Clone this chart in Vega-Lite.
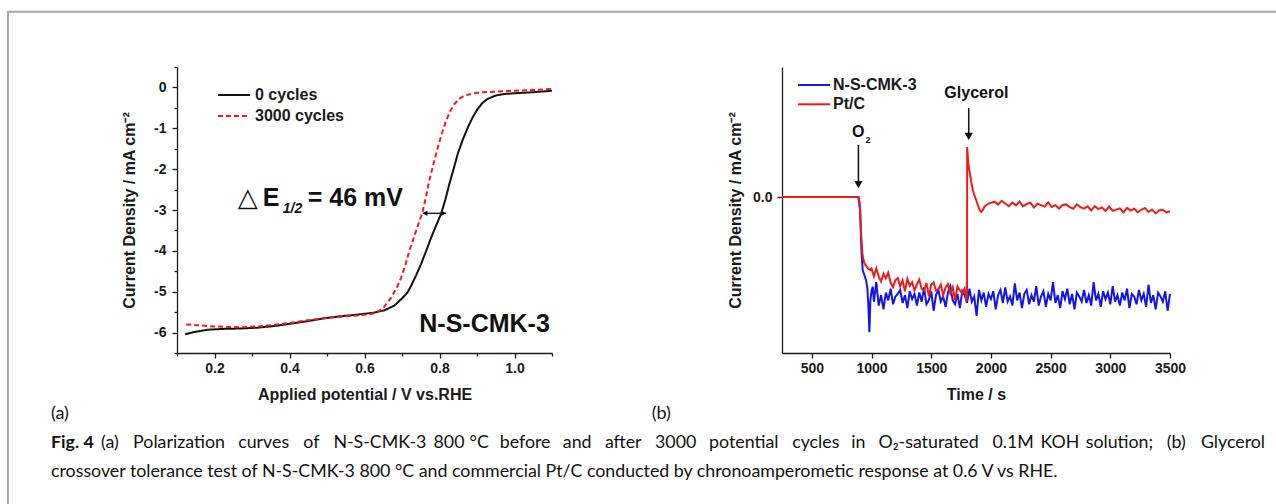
{
  "$schema": "https://vega.github.io/schema/vega-lite/v6.json",
  "background": "white",
  "padding": {"left": 6, "top": 10, "right": 0, "bottom": 0},
  "config": {
    "view": {"stroke": null},
    "font": "Liberation Sans",
    "axis": {"domainColor": "#1a1a1a", "domainWidth": 1.3, "tickColor": "#1a1a1a", "tickWidth": 1.3, "labelFont": "Liberation Sans", "labelFontWeight": "bold", "labelFontSize": 14, "labelColor": "#1a1a1a", "titleFont": "Liberation Sans", "titleFontWeight": "bold", "titleFontSize": 16, "titleColor": "#1a1a1a", "grid": false, "labelPadding": 3, "labelOverlap": false, "labelFlush": false},
    "legend": {"labelFont": "Liberation Sans", "labelFontWeight": "bold", "labelFontSize": 16, "labelColor": "#1a1a1a", "symbolStrokeWidth": 2, "padding": 0}
  },
  "datasets": {
    "curvesA": [
      {"x":0.122,"y":-6.04,"series":"0 cycles"},{"x":0.1445,"y":-5.99,"series":"0 cycles"},{"x":0.1815,"y":-5.93,"series":"0 cycles"},{"x":0.2245,"y":-5.91,"series":"0 cycles"},{"x":0.2705,"y":-5.9,"series":"0 cycles"},{"x":0.3145,"y":-5.88,"series":"0 cycles"},{"x":0.3595,"y":-5.84,"series":"0 cycles"},{"x":0.4045,"y":-5.78,"series":"0 cycles"},{"x":0.4485,"y":-5.72,"series":"0 cycles"},{"x":0.4925,"y":-5.65,"series":"0 cycles"},{"x":0.5375,"y":-5.6,"series":"0 cycles"},{"x":0.5825,"y":-5.56,"series":"0 cycles"},{"x":0.6265,"y":-5.51,"series":"0 cycles"},{"x":0.6545,"y":-5.45,"series":"0 cycles"},{"x":0.6795,"y":-5.34,"series":"0 cycles"},{"x":0.6995,"y":-5.17,"series":"0 cycles"},{"x":0.7145,"y":-5.02,"series":"0 cycles"},{"x":0.724,"y":-4.86,"series":"0 cycles"},{"x":0.7375,"y":-4.6,"series":"0 cycles"},{"x":0.7505,"y":-4.33,"series":"0 cycles"},{"x":0.7645,"y":-4.0,"series":"0 cycles"},{"x":0.7775,"y":-3.68,"series":"0 cycles"},{"x":0.7905,"y":-3.39,"series":"0 cycles"},{"x":0.804,"y":-3.1,"series":"0 cycles"},{"x":0.8155,"y":-2.75,"series":"0 cycles"},{"x":0.826,"y":-2.37,"series":"0 cycles"},{"x":0.8375,"y":-2.0,"series":"0 cycles"},{"x":0.8485,"y":-1.63,"series":"0 cycles"},{"x":0.8615,"y":-1.29,"series":"0 cycles"},{"x":0.8755,"y":-0.98,"series":"0 cycles"},{"x":0.8885,"y":-0.73,"series":"0 cycles"},{"x":0.9015,"y":-0.53,"series":"0 cycles"},{"x":0.9145,"y":-0.38,"series":"0 cycles"},{"x":0.9285,"y":-0.28,"series":"0 cycles"},{"x":0.9495,"y":-0.2,"series":"0 cycles"},{"x":0.9725,"y":-0.16,"series":"0 cycles"},{"x":1.0045,"y":-0.14,"series":"0 cycles"},{"x":1.0445,"y":-0.12,"series":"0 cycles"},{"x":1.0745,"y":-0.1,"series":"0 cycles"},{"x":1.1,"y":-0.08,"series":"0 cycles"},
      {"x":0.1245,"y":-5.8,"series":"3000 cycles"},{"x":0.1545,"y":-5.82,"series":"3000 cycles"},{"x":0.1815,"y":-5.84,"series":"3000 cycles"},{"x":0.2245,"y":-5.86,"series":"3000 cycles"},{"x":0.2705,"y":-5.87,"series":"3000 cycles"},{"x":0.3145,"y":-5.85,"series":"3000 cycles"},{"x":0.3595,"y":-5.81,"series":"3000 cycles"},{"x":0.4045,"y":-5.76,"series":"3000 cycles"},{"x":0.4485,"y":-5.7,"series":"3000 cycles"},{"x":0.4925,"y":-5.65,"series":"3000 cycles"},{"x":0.5375,"y":-5.61,"series":"3000 cycles"},{"x":0.5815,"y":-5.58,"series":"3000 cycles"},{"x":0.6145,"y":-5.55,"series":"3000 cycles"},{"x":0.6345,"y":-5.5,"series":"3000 cycles"},{"x":0.6495,"y":-5.4,"series":"3000 cycles"},{"x":0.6705,"y":-5.15,"series":"3000 cycles"},{"x":0.6845,"y":-4.93,"series":"3000 cycles"},{"x":0.6975,"y":-4.66,"series":"3000 cycles"},{"x":0.7095,"y":-4.33,"series":"3000 cycles"},{"x":0.7195,"y":-4.0,"series":"3000 cycles"},{"x":0.7285,"y":-3.76,"series":"3000 cycles"},{"x":0.7375,"y":-3.51,"series":"3000 cycles"},{"x":0.7465,"y":-3.27,"series":"3000 cycles"},{"x":0.7555,"y":-3.02,"series":"3000 cycles"},{"x":0.7645,"y":-2.65,"series":"3000 cycles"},{"x":0.7725,"y":-2.29,"series":"3000 cycles"},{"x":0.7845,"y":-1.85,"series":"3000 cycles"},{"x":0.7955,"y":-1.47,"series":"3000 cycles"},{"x":0.8065,"y":-1.12,"series":"3000 cycles"},{"x":0.8175,"y":-0.82,"series":"3000 cycles"},{"x":0.8285,"y":-0.58,"series":"3000 cycles"},{"x":0.8395,"y":-0.41,"series":"3000 cycles"},{"x":0.8525,"y":-0.28,"series":"3000 cycles"},{"x":0.8665,"y":-0.2,"series":"3000 cycles"},{"x":0.8885,"y":-0.15,"series":"3000 cycles"},{"x":0.9105,"y":-0.12,"series":"3000 cycles"},{"x":0.9545,"y":-0.1,"series":"3000 cycles"},{"x":0.9995,"y":-0.08,"series":"3000 cycles"},{"x":1.0545,"y":-0.06,"series":"3000 cycles"},{"x":1.1,"y":-0.04,"series":"3000 cycles"}
    ],
    "curvesB": [
      {"x":250,"y":0,"series":"N-S-CMK-3"},{"x":890,"y":0,"series":"N-S-CMK-3"},{"x":905,"y":-0.1,"series":"N-S-CMK-3"},{"x":915,"y":-0.4,"series":"N-S-CMK-3"},{"x":926,"y":-0.565,"series":"N-S-CMK-3"},{"x":940,"y":-0.6,"series":"N-S-CMK-3"},{"x":954,"y":-0.64,"series":"N-S-CMK-3"},{"x":965,"y":-0.7,"series":"N-S-CMK-3"},{"x":974,"y":-0.85,"series":"N-S-CMK-3"},{"x":982,"y":-1.04,"series":"N-S-CMK-3"},{"x":990,"y":-0.8,"series":"N-S-CMK-3"},{"x":1000,"y":-0.72,"series":"N-S-CMK-3"},{"x":1010,"y":-0.69,"series":"N-S-CMK-3"},
      {"x":1020,"y":-0.805,"series":"N-S-CMK-3"},{"x":1040,"y":-0.655,"series":"N-S-CMK-3"},{"x":1060,"y":-0.835,"series":"N-S-CMK-3"},{"x":1080,"y":-0.755,"series":"N-S-CMK-3"},{"x":1100,"y":-0.865,"series":"N-S-CMK-3"},{"x":1120,"y":-0.735,"series":"N-S-CMK-3"},{"x":1140,"y":-0.795,"series":"N-S-CMK-3"},{"x":1160,"y":-0.705,"series":"N-S-CMK-3"},{"x":1180,"y":-0.825,"series":"N-S-CMK-3"},{"x":1200,"y":-0.765,"series":"N-S-CMK-3"},
      {"x":1220,"y":-0.745,"series":"N-S-CMK-3"},{"x":1240,"y":-0.715,"series":"N-S-CMK-3"},{"x":1260,"y":-0.815,"series":"N-S-CMK-3"},{"x":1280,"y":-0.755,"series":"N-S-CMK-3"},{"x":1300,"y":-0.855,"series":"N-S-CMK-3"},{"x":1320,"y":-0.725,"series":"N-S-CMK-3"},{"x":1340,"y":-0.785,"series":"N-S-CMK-3"},{"x":1360,"y":-0.745,"series":"N-S-CMK-3"},{"x":1380,"y":-0.835,"series":"N-S-CMK-3"},{"x":1400,"y":-0.735,"series":"N-S-CMK-3"},
      {"x":1420,"y":-0.805,"series":"N-S-CMK-3"},{"x":1440,"y":-0.695,"series":"N-S-CMK-3"},{"x":1460,"y":-0.825,"series":"N-S-CMK-3"},{"x":1480,"y":-0.795,"series":"N-S-CMK-3"},{"x":1500,"y":-0.725,"series":"N-S-CMK-3"},{"x":1520,"y":-0.875,"series":"N-S-CMK-3"},{"x":1540,"y":-0.755,"series":"N-S-CMK-3"},{"x":1560,"y":-0.715,"series":"N-S-CMK-3"},{"x":1580,"y":-0.805,"series":"N-S-CMK-3"},{"x":1600,"y":-0.765,"series":"N-S-CMK-3"},
      {"x":1620,"y":-0.845,"series":"N-S-CMK-3"},{"x":1640,"y":-0.735,"series":"N-S-CMK-3"},{"x":1660,"y":-0.685,"series":"N-S-CMK-3"},{"x":1680,"y":-0.795,"series":"N-S-CMK-3"},{"x":1700,"y":-0.825,"series":"N-S-CMK-3"},{"x":1720,"y":-0.745,"series":"N-S-CMK-3"},{"x":1740,"y":-0.855,"series":"N-S-CMK-3"},{"x":1760,"y":-0.725,"series":"N-S-CMK-3"},{"x":1780,"y":-0.755,"series":"N-S-CMK-3"},{"x":1800,"y":-0.815,"series":"N-S-CMK-3"},
      {"x":1820,"y":-0.705,"series":"N-S-CMK-3"},{"x":1840,"y":-0.805,"series":"N-S-CMK-3"},{"x":1860,"y":-0.765,"series":"N-S-CMK-3"},{"x":1880,"y":-0.915,"series":"N-S-CMK-3"},{"x":1900,"y":-0.715,"series":"N-S-CMK-3"},{"x":1920,"y":-0.795,"series":"N-S-CMK-3"},{"x":1940,"y":-0.735,"series":"N-S-CMK-3"},{"x":1960,"y":-0.845,"series":"N-S-CMK-3"},{"x":1980,"y":-0.745,"series":"N-S-CMK-3"},{"x":2000,"y":-0.785,"series":"N-S-CMK-3"},
      {"x":2020,"y":-0.725,"series":"N-S-CMK-3"},{"x":2040,"y":-0.865,"series":"N-S-CMK-3"},{"x":2060,"y":-0.755,"series":"N-S-CMK-3"},{"x":2080,"y":-0.715,"series":"N-S-CMK-3"},{"x":2100,"y":-0.815,"series":"N-S-CMK-3"},{"x":2120,"y":-0.695,"series":"N-S-CMK-3"},{"x":2140,"y":-0.805,"series":"N-S-CMK-3"},{"x":2160,"y":-0.765,"series":"N-S-CMK-3"},{"x":2180,"y":-0.835,"series":"N-S-CMK-3"},{"x":2200,"y":-0.665,"series":"N-S-CMK-3"},
      {"x":2220,"y":-0.795,"series":"N-S-CMK-3"},{"x":2240,"y":-0.735,"series":"N-S-CMK-3"},{"x":2260,"y":-0.855,"series":"N-S-CMK-3"},{"x":2280,"y":-0.745,"series":"N-S-CMK-3"},{"x":2300,"y":-0.715,"series":"N-S-CMK-3"},{"x":2320,"y":-0.825,"series":"N-S-CMK-3"},{"x":2340,"y":-0.755,"series":"N-S-CMK-3"},{"x":2360,"y":-0.805,"series":"N-S-CMK-3"},{"x":2380,"y":-0.685,"series":"N-S-CMK-3"},{"x":2400,"y":-0.835,"series":"N-S-CMK-3"},
      {"x":2420,"y":-0.765,"series":"N-S-CMK-3"},{"x":2440,"y":-0.725,"series":"N-S-CMK-3"},{"x":2460,"y":-0.845,"series":"N-S-CMK-3"},{"x":2480,"y":-0.745,"series":"N-S-CMK-3"},{"x":2500,"y":-0.795,"series":"N-S-CMK-3"},{"x":2520,"y":-0.655,"series":"N-S-CMK-3"},{"x":2540,"y":-0.815,"series":"N-S-CMK-3"},{"x":2560,"y":-0.755,"series":"N-S-CMK-3"},{"x":2580,"y":-0.855,"series":"N-S-CMK-3"},{"x":2600,"y":-0.725,"series":"N-S-CMK-3"},
      {"x":2620,"y":-0.785,"series":"N-S-CMK-3"},{"x":2640,"y":-0.705,"series":"N-S-CMK-3"},{"x":2660,"y":-0.825,"series":"N-S-CMK-3"},{"x":2680,"y":-0.745,"series":"N-S-CMK-3"},{"x":2700,"y":-0.865,"series":"N-S-CMK-3"},{"x":2720,"y":-0.735,"series":"N-S-CMK-3"},{"x":2740,"y":-0.765,"series":"N-S-CMK-3"},{"x":2760,"y":-0.805,"series":"N-S-CMK-3"},{"x":2780,"y":-0.715,"series":"N-S-CMK-3"},{"x":2800,"y":-0.815,"series":"N-S-CMK-3"},
      {"x":2820,"y":-0.755,"series":"N-S-CMK-3"},{"x":2840,"y":-0.835,"series":"N-S-CMK-3"},{"x":2860,"y":-0.655,"series":"N-S-CMK-3"},{"x":2880,"y":-0.795,"series":"N-S-CMK-3"},{"x":2900,"y":-0.745,"series":"N-S-CMK-3"},{"x":2920,"y":-0.845,"series":"N-S-CMK-3"},{"x":2940,"y":-0.725,"series":"N-S-CMK-3"},{"x":2960,"y":-0.785,"series":"N-S-CMK-3"},{"x":2980,"y":-0.735,"series":"N-S-CMK-3"},{"x":3000,"y":-0.825,"series":"N-S-CMK-3"},
      {"x":3020,"y":-0.685,"series":"N-S-CMK-3"},{"x":3040,"y":-0.805,"series":"N-S-CMK-3"},{"x":3060,"y":-0.755,"series":"N-S-CMK-3"},{"x":3080,"y":-0.835,"series":"N-S-CMK-3"},{"x":3100,"y":-0.735,"series":"N-S-CMK-3"},{"x":3120,"y":-0.795,"series":"N-S-CMK-3"},{"x":3140,"y":-0.705,"series":"N-S-CMK-3"},{"x":3160,"y":-0.855,"series":"N-S-CMK-3"},{"x":3180,"y":-0.745,"series":"N-S-CMK-3"},{"x":3200,"y":-0.765,"series":"N-S-CMK-3"},
      {"x":3220,"y":-0.825,"series":"N-S-CMK-3"},{"x":3240,"y":-0.715,"series":"N-S-CMK-3"},{"x":3260,"y":-0.795,"series":"N-S-CMK-3"},{"x":3280,"y":-0.745,"series":"N-S-CMK-3"},{"x":3300,"y":-0.845,"series":"N-S-CMK-3"},{"x":3320,"y":-0.675,"series":"N-S-CMK-3"},{"x":3340,"y":-0.815,"series":"N-S-CMK-3"},{"x":3360,"y":-0.755,"series":"N-S-CMK-3"},{"x":3380,"y":-0.865,"series":"N-S-CMK-3"},{"x":3400,"y":-0.735,"series":"N-S-CMK-3"},
      {"x":3420,"y":-0.765,"series":"N-S-CMK-3"},{"x":3440,"y":-0.805,"series":"N-S-CMK-3"},{"x":3460,"y":-0.725,"series":"N-S-CMK-3"},{"x":3480,"y":-0.875,"series":"N-S-CMK-3"},{"x":3500,"y":-0.745,"series":"N-S-CMK-3"},
      {"x":250,"y":0,"series":"Pt/C"},{"x":890,"y":0,"series":"Pt/C"},{"x":900,"y":-0.04,"series":"Pt/C"},{"x":912,"y":-0.28,"series":"Pt/C"},{"x":925,"y":-0.45,"series":"Pt/C"},{"x":940,"y":-0.51,"series":"Pt/C"},{"x":955,"y":-0.53,"series":"Pt/C"},{"x":970,"y":-0.55,"series":"Pt/C"},{"x":985,"y":-0.56,"series":"Pt/C"},
      {"x":1000,"y":-0.55,"series":"Pt/C"},{"x":1020,"y":-0.61,"series":"Pt/C"},{"x":1040,"y":-0.55,"series":"Pt/C"},{"x":1060,"y":-0.61,"series":"Pt/C"},{"x":1080,"y":-0.65,"series":"Pt/C"},{"x":1100,"y":-0.59,"series":"Pt/C"},{"x":1120,"y":-0.626,"series":"Pt/C"},{"x":1140,"y":-0.582,"series":"Pt/C"},{"x":1160,"y":-0.658,"series":"Pt/C"},{"x":1180,"y":-0.694,"series":"Pt/C"},
      {"x":1200,"y":-0.64,"series":"Pt/C"},{"x":1220,"y":-0.624,"series":"Pt/C"},{"x":1240,"y":-0.688,"series":"Pt/C"},{"x":1260,"y":-0.642,"series":"Pt/C"},{"x":1280,"y":-0.726,"series":"Pt/C"},{"x":1300,"y":-0.63,"series":"Pt/C"},{"x":1320,"y":-0.683,"series":"Pt/C"},{"x":1340,"y":-0.656,"series":"Pt/C"},{"x":1360,"y":-0.719,"series":"Pt/C"},{"x":1380,"y":-0.672,"series":"Pt/C"},
      {"x":1400,"y":-0.635,"series":"Pt/C"},{"x":1420,"y":-0.707,"series":"Pt/C"},{"x":1440,"y":-0.719,"series":"Pt/C"},{"x":1460,"y":-0.661,"series":"Pt/C"},{"x":1480,"y":-0.763,"series":"Pt/C"},{"x":1500,"y":-0.675,"series":"Pt/C"},{"x":1520,"y":-0.657,"series":"Pt/C"},{"x":1540,"y":-0.719,"series":"Pt/C"},{"x":1560,"y":-0.711,"series":"Pt/C"},{"x":1580,"y":-0.673,"series":"Pt/C"},
      {"x":1600,"y":-0.755,"series":"Pt/C"},{"x":1620,"y":-0.697,"series":"Pt/C"},{"x":1640,"y":-0.669,"series":"Pt/C"},{"x":1660,"y":-0.741,"series":"Pt/C"},{"x":1680,"y":-0.693,"series":"Pt/C"},{"x":1700,"y":-0.795,"series":"Pt/C"},{"x":1720,"y":-0.687,"series":"Pt/C"},{"x":1740,"y":-0.719,"series":"Pt/C"},{"x":1760,"y":-0.741,"series":"Pt/C"},{"x":1780,"y":-0.703,"series":"Pt/C"},
      {"x":1795,"y":-0.8,"series":"Pt/C"},{"x":1800,"y":-0.76,"series":"Pt/C"},{"x":1801,"y":0.385,"series":"Pt/C"},{"x":1806,"y":0.32,"series":"Pt/C"},{"x":1812,"y":0.25,"series":"Pt/C"},{"x":1818,"y":0.21,"series":"Pt/C"},{"x":1826,"y":0.17,"series":"Pt/C"},{"x":1836,"y":0.11,"series":"Pt/C"},{"x":1849,"y":0.05,"series":"Pt/C"},{"x":1863,"y":0.01,"series":"Pt/C"},{"x":1877,"y":-0.025,"series":"Pt/C"},{"x":1890,"y":-0.06,"series":"Pt/C"},{"x":1905,"y":-0.1,"series":"Pt/C"},{"x":1919,"y":-0.115,"series":"Pt/C"},{"x":1932,"y":-0.1,"series":"Pt/C"},{"x":1946,"y":-0.075,"series":"Pt/C"},{"x":1960,"y":-0.064,"series":"Pt/C"},{"x":1980,"y":-0.05,"series":"Pt/C"},{"x":2000,"y":-0.045,"series":"Pt/C"},
      {"x":2030,"y":-0.036,"series":"Pt/C"},{"x":2060,"y":-0.058,"series":"Pt/C"},{"x":2090,"y":-0.029,"series":"Pt/C"},{"x":2120,"y":-0.05,"series":"Pt/C"},{"x":2150,"y":-0.071,"series":"Pt/C"},{"x":2180,"y":-0.043,"series":"Pt/C"},{"x":2210,"y":-0.064,"series":"Pt/C"},{"x":2240,"y":-0.035,"series":"Pt/C"},{"x":2270,"y":-0.072,"series":"Pt/C"},{"x":2300,"y":-0.053,"series":"Pt/C"},
      {"x":2330,"y":-0.044,"series":"Pt/C"},{"x":2360,"y":-0.08,"series":"Pt/C"},{"x":2390,"y":-0.052,"series":"Pt/C"},{"x":2420,"y":-0.063,"series":"Pt/C"},{"x":2450,"y":-0.074,"series":"Pt/C"},{"x":2480,"y":-0.041,"series":"Pt/C"},{"x":2510,"y":-0.077,"series":"Pt/C"},{"x":2540,"y":-0.063,"series":"Pt/C"},{"x":2570,"y":-0.089,"series":"Pt/C"},{"x":2600,"y":-0.061,"series":"Pt/C"},
      {"x":2630,"y":-0.057,"series":"Pt/C"},{"x":2660,"y":-0.078,"series":"Pt/C"},{"x":2690,"y":-0.09,"series":"Pt/C"},{"x":2720,"y":-0.056,"series":"Pt/C"},{"x":2750,"y":-0.078,"series":"Pt/C"},{"x":2780,"y":-0.09,"series":"Pt/C"},{"x":2810,"y":-0.072,"series":"Pt/C"},{"x":2840,"y":-0.104,"series":"Pt/C"},{"x":2870,"y":-0.071,"series":"Pt/C"},{"x":2900,"y":-0.093,"series":"Pt/C"},
      {"x":2930,"y":-0.08,"series":"Pt/C"},{"x":2960,"y":-0.107,"series":"Pt/C"},{"x":2990,"y":-0.074,"series":"Pt/C"},{"x":3020,"y":-0.106,"series":"Pt/C"},{"x":3050,"y":-0.097,"series":"Pt/C"},{"x":3080,"y":-0.087,"series":"Pt/C"},{"x":3110,"y":-0.118,"series":"Pt/C"},{"x":3140,"y":-0.084,"series":"Pt/C"},{"x":3170,"y":-0.105,"series":"Pt/C"},{"x":3200,"y":-0.091,"series":"Pt/C"},
      {"x":3230,"y":-0.117,"series":"Pt/C"},{"x":3260,"y":-0.098,"series":"Pt/C"},{"x":3290,"y":-0.084,"series":"Pt/C"},{"x":3320,"y":-0.115,"series":"Pt/C"},{"x":3350,"y":-0.096,"series":"Pt/C"},{"x":3380,"y":-0.126,"series":"Pt/C"},{"x":3410,"y":-0.102,"series":"Pt/C"},{"x":3440,"y":-0.098,"series":"Pt/C"},{"x":3470,"y":-0.119,"series":"Pt/C"},{"x":3500,"y":-0.11,"series":"Pt/C"}
    ]
  },
  "spacing": 361,
  "bounds": "flush",
  "vconcat": [
    {
      "spacing": 95,
      "resolve": {"scale": {"color": "independent", "strokeDash": "independent"}, "legend": {"color": "independent", "strokeDash": "independent"}},
      "hconcat": [
        {
          "width": 375,
          "height": 286,
          "encoding": {
            "x": {"field": "x", "type": "quantitative", "scale": {"domain": [0.1, 1.1], "nice": false, "zero": false},
              "axis": {"title": "Applied potential / V vs.RHE", "values": [0.1,0.2,0.3,0.4,0.5,0.6,0.7,0.8,0.9,1.0,1.1], "labelExpr": "round(datum.value*10)%2==0 ? format(datum.value,'.1f') : ''", "tickSize": {"condition": {"test": "round(datum.value*10)%2==0", "value": 5}, "value": 3}, "titlePadding": 11}},
            "y": {"field": "y", "type": "quantitative", "scale": {"domain": [-6.5, 0.5], "nice": false, "zero": false},
              "axis": {"title": "Current Density / mA cm⁻²", "values": [-6.5,-6,-5.5,-5,-4.5,-4,-3.5,-3,-2.5,-2,-1.5,-1,-0.5,0,0.5], "labelExpr": "datum.value % 1 == 0 ? '' + datum.value : ''", "tickSize": {"condition": {"test": "datum.value % 1 == 0", "value": 5}, "value": 3}, "labelPadding": 6, "titlePadding": 16}}
          },
          "layer": [
            {
              "data": {"name": "curvesA"},
              "mark": {"type": "line", "strokeWidth": 2},
              "encoding": {
                "color": {"field": "series", "type": "nominal", "scale": {"domain": ["0 cycles", "3000 cycles"], "range": ["#111111", "#e31e24"]},
                  "legend": {"title": null, "orient": "none", "legendX": 49, "legendY": 20, "symbolType": "M-3.2,0H3.2", "symbolSize": 100, "rowPadding": 5, "labelOffset": 13}},
                "strokeDash": {"field": "series", "type": "nominal", "scale": {"domain": ["0 cycles", "3000 cycles"], "range": [[1, 0], [5, 3]]},
                  "legend": {"title": null, "orient": "none", "legendX": 49, "legendY": 20, "symbolType": "M-3.2,0H3.2", "symbolSize": 100, "rowPadding": 5, "labelOffset": 13}}
              }
            },
            {
              "data": {"values": [{"x": 0.7552, "x2": 0.8173, "y": -3.081}]},
              "mark": {"type": "rule", "strokeWidth": 1.3, "color": "#111111"},
              "encoding": {"x2": {"field": "x2"}}
            },
            {
              "data": {"values": [{"x": 0.7615, "y": -3.081, "s": "triangle-left"}, {"x": 0.8109, "y": -3.081, "s": "triangle-right"}]},
              "mark": {"type": "point", "filled": true, "color": "#111111", "size": 30, "opacity": 1},
              "encoding": {"shape": {"field": "s", "type": "nominal", "scale": null}}
            },
            {
              "data": {"values": [{"x": 0.2619, "y": -2.902, "t": "△"}]},
              "mark": {"type": "text", "align": "left", "baseline": "alphabetic", "font": "DejaVu Sans", "fontSize": 26, "color": "#111111"},
              "encoding": {"text": {"field": "t"}}
            },
            {
              "data": {"values": [{"x": 0.3285, "y": -2.902, "t": "E"}, {"x": 0.4485, "y": -2.902, "t": "= 46 mV"}]},
              "mark": {"type": "text", "align": "left", "baseline": "alphabetic", "font": "Liberation Sans", "fontWeight": "bold", "fontSize": 25, "color": "#111111"},
              "encoding": {"text": {"field": "t"}}
            },
            {
              "data": {"values": [{"x": 0.3819, "y": -3.073, "t": "1/2"}]},
              "mark": {"type": "text", "align": "left", "baseline": "alphabetic", "font": "Liberation Sans", "fontWeight": "bold", "fontStyle": "italic", "fontSize": 14, "color": "#111111"},
              "encoding": {"text": {"field": "t"}}
            },
            {
              "data": {"values": [{"x": 0.7461, "y": -5.979, "t": "N-S-CMK-3"}]},
              "mark": {"type": "text", "align": "left", "baseline": "alphabetic", "font": "Liberation Sans", "fontWeight": "bold", "fontSize": 25, "color": "#111111"},
              "encoding": {"text": {"field": "t"}}
            },
            {
              "data": {"values": [{"x": -0.236, "y": -8.115, "t": "(a)"}]},
              "mark": {"type": "text", "align": "left", "baseline": "alphabetic", "font": "Lato", "fontSize": 18, "color": "#111111"},
              "encoding": {"text": {"field": "t"}}
            }
          ]
        },
        {
          "width": 388,
          "height": 286,
          "encoding": {
            "x": {"field": "x", "type": "quantitative", "scale": {"domain": [250, 3500], "nice": false, "zero": false},
              "axis": {"title": "Time / s", "values": [500,1000,1500,2000,2500,3000,3500], "labelExpr": "'' + datum.value", "tickSize": 5, "titlePadding": 11}},
            "y": {"field": "y", "type": "quantitative", "scale": {"domain": [-1.2, 1.0], "nice": false, "zero": false},
              "axis": {"title": "Current Density / mA cm⁻²", "values": [0], "labelExpr": "'0.0'", "tickSize": 5, "labelPadding": 5, "titlePadding": 9}}
          },
          "layer": [
            {
              "data": {"name": "curvesB"},
              "mark": {"type": "line", "strokeWidth": 2},
              "encoding": {
                "color": {"field": "series", "type": "nominal", "scale": {"domain": ["N-S-CMK-3", "Pt/C"], "range": ["#1414e6", "#ee1b1b"]},
                  "legend": {"title": null, "orient": "none", "legendX": 24, "legendY": 10, "symbolType": "M-3.2,0H3.2", "symbolSize": 100, "rowPadding": 3.3, "labelOffset": 11}}
              }
            },
            {
              "data": {"values": [{"x": 890, "y": 0.40, "y2": 0.0946}, {"x": 1814, "y": 0.685, "y2": 0.466}]},
              "mark": {"type": "rule", "strokeWidth": 1.5, "color": "#111111"},
              "encoding": {"y2": {"field": "y2"}}
            },
            {
              "data": {"values": [{"x": 890, "y": 0.0946}, {"x": 1814, "y": 0.466}]},
              "mark": {"type": "point", "shape": "triangle-down", "filled": true, "color": "#111111", "size": 70, "opacity": 1}
            },
            {
              "data": {"values": [{"x": 836.3, "y": 0.459, "t": "O"}, {"x": 1610, "y": 0.759, "t": "Glycerol"}]},
              "mark": {"type": "text", "align": "left", "baseline": "alphabetic", "font": "Liberation Sans", "fontWeight": "bold", "fontSize": 16, "color": "#111111"},
              "encoding": {"text": {"field": "t"}}
            },
            {
              "data": {"values": [{"x": 948.6, "y": 0.413, "t": "2"}]},
              "mark": {"type": "text", "align": "left", "baseline": "alphabetic", "font": "Liberation Sans", "fontWeight": "bold", "fontSize": 9, "color": "#111111"},
              "encoding": {"text": {"field": "t"}}
            },
            {
              "data": {"values": [{"x": -841, "y": -1.708, "t": "(b)"}]},
              "mark": {"type": "text", "align": "left", "baseline": "alphabetic", "font": "Lato", "fontSize": 18, "color": "#111111"},
              "encoding": {"text": {"field": "t"}}
            }
          ]
        }
      ]
    },
    {
      "width": 1090,
      "height": 58,
      "encoding": {
        "x": {"field": "x", "type": "quantitative", "axis": null, "scale": {"domain": [0, 1], "range": [-126, 1090]}},
        "y": {"field": "line", "type": "quantitative", "axis": null, "scale": {"domain": [0.5, 2.5], "range": [0, 58]}}
      },
      "layer": [
        {
          "data": {"values": [{"x": -0.0354, "x2": 1.03, "line": -13.85, "line2": 4.0}]},
          "mark": {"type": "rect", "fill": null, "fillOpacity": 0, "stroke": "#a8a8a8", "strokeWidth": 2},
          "encoding": {"x2": {"field": "x2"}, "y2": {"field": "line2"}}
        },
        {
          "data": {"values": [{"line": 1, "x": 0, "t": "Fig. 4"}]},
          "mark": {"type": "text", "align": "left", "baseline": "middle", "font": "Lato", "fontWeight": "bold", "fontSize": 17.8, "color": "#111111"},
          "encoding": {"text": {"field": "t"}}
        },
        {
          "data": {"values": [
            {"line": 1, "x": 0.04112, "t": "(a)"},
            {"line": 1, "x": 0.06752, "t": "Polarization"},
            {"line": 1, "x": 0.15395, "t": "curves"},
            {"line": 1, "x": 0.20748, "t": "of"},
            {"line": 1, "x": 0.23224, "t": "N-S-CMK-3"},
            {"line": 1, "x": 0.31456, "t": "800"},
            {"line": 1, "x": 0.34424, "t": "°C"},
            {"line": 1, "x": 0.36899, "t": "before"},
            {"line": 1, "x": 0.42089, "t": "and"},
            {"line": 1, "x": 0.45551, "t": "after"},
            {"line": 1, "x": 0.49671, "t": "3000"},
            {"line": 1, "x": 0.5412, "t": "potential"},
            {"line": 1, "x": 0.60954, "t": "cycles"},
            {"line": 1, "x": 0.65814, "t": "in"},
            {"line": 1, "x": 0.68043, "t": "O₂-saturated"},
            {"line": 1, "x": 0.77426, "t": "0.1M"},
            {"line": 1, "x": 0.81382, "t": "KOH"},
            {"line": 1, "x": 0.8509, "t": "solution;"},
            {"line": 1, "x": 0.9176, "t": "(b)"},
            {"line": 1, "x": 0.94564, "t": "Glycerol"},
            {"line": 2, "x": 0, "t": "crossover tolerance test of N-S-CMK-3 800 °C and commercial Pt/C conducted by chronoamperometic response at 0.6 V vs RHE."}
          ]},
          "mark": {"type": "text", "align": "left", "baseline": "middle", "font": "Lato", "fontSize": 17.8, "color": "#111111"},
          "encoding": {"text": {"field": "t"}}
        }
      ]
    }
  ]
}
